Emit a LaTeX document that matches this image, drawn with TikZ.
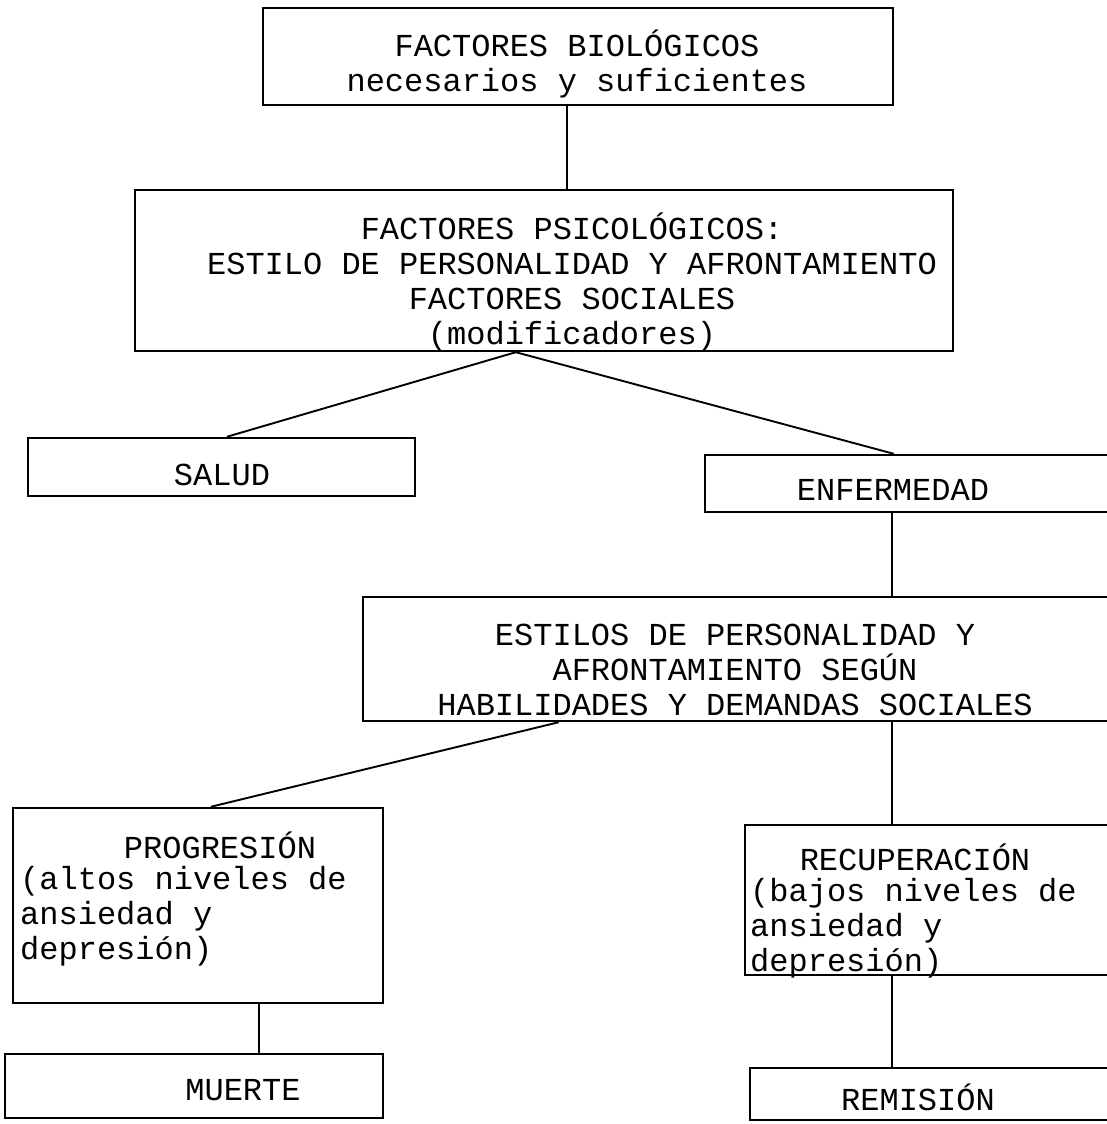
\documentclass[tikz,border=0pt]{standalone}
\usepackage{fontspec}
\setmainfont{Liberation Mono}
\begin{document}
\begin{tikzpicture}[x=1pt,y=-1pt,
  box/.style={draw,line width=2.4pt,inner sep=0pt,rectangle},
  txt/.style={inner sep=0pt,font=\fontsize{32}{35}\selectfont,align=center},
  txtl/.style={inner sep=0pt,font=\fontsize{32}{35}\selectfont,align=left,anchor=west},
  link/.style={line width=1.9pt}]
\clip (0,0) rectangle (1107,1124);
\fill[white] (0,0) rectangle (1107,1124);
% boxes
\node[box,minimum width=630pt,minimum height=97pt] (b1) at (578,56.5) {};
\node[box,minimum width=818pt,minimum height=161pt] (b2) at (544,270.5) {};
\node[box,minimum width=387pt,minimum height=58pt] (sal) at (221.5,467) {};
\node[box,minimum width=410pt,minimum height=57pt] (enf) at (910,483.5) {};
\node[box,minimum width=752pt,minimum height=124pt] (est) at (739,659) {};
\node[box,minimum width=370pt,minimum height=195pt] (prog) at (198,905.5) {};
\node[box,minimum width=370pt,minimum height=150pt] (rec) at (930,900) {};
\node[box,minimum width=378pt,minimum height=64pt] (mue) at (194,1086) {};
\node[box,minimum width=365pt,minimum height=52pt] (rem) at (932.5,1094) {};
% texts
\node[txt] (t1) at (577,64) {FACTORES BIOLÓGICOS\\necesarios y suficientes};
\node[txt] (t2) at (572,282) {FACTORES PSICOLÓGICOS:\\ESTILO DE PERSONALIDAD Y AFRONTAMIENTO\\FACTORES SOCIALES\\(modificadores)};
\node[txt] (t3) at (222,475) {SALUD};
\node[txt] (t4) at (893,490) {ENFERMEDAD};
\node[txt] (t5) at (735,670) {ESTILOS DE PERSONALIDAD Y\\AFRONTAMIENTO SEGÚN\\HABILIDADES Y DEMANDAS SOCIALES};
\node[txt] (t6) at (220,845) {PROGRESIÓN};
\node[txtl] (t7) at (20,916) {(altos niveles de\\ansiedad y\\depresión)};
\node[txt] (t8) at (915,857) {RECUPERACIÓN};
\node[txtl] (t9) at (750,928) {(bajos niveles de\\ansiedad y\\depresión)};
\node[txt] (t10) at (243,1090) {MUERTE};
\node[txt] (t11) at (918,1097) {REMISIÓN};
% connectors
\draw[link] ([xshift=-11pt]b1.south) -- ([xshift=23pt]b2.north);
\draw[link] ([xshift=382pt]b2.south west) -- ([xshift=200pt]sal.north west);
\draw[link] ([xshift=382pt]b2.south west) -- ([xshift=190pt]enf.north west);
\draw[link] ([xshift=188pt]enf.south west) -- ([xshift=530pt]est.north west);
\draw[link] ([xshift=197pt]est.south west) -- ([xshift=199pt]prog.north west);
\draw[link] ([xshift=530pt]est.south west) -- ([xshift=148pt]rec.north west);
\draw[link] ([xshift=247pt]prog.south west) -- ([xshift=255pt]mue.north west);
\draw[link] ([xshift=148pt]rec.south west) -- ([xshift=143pt]rem.north west);
\end{tikzpicture}
\end{document}
